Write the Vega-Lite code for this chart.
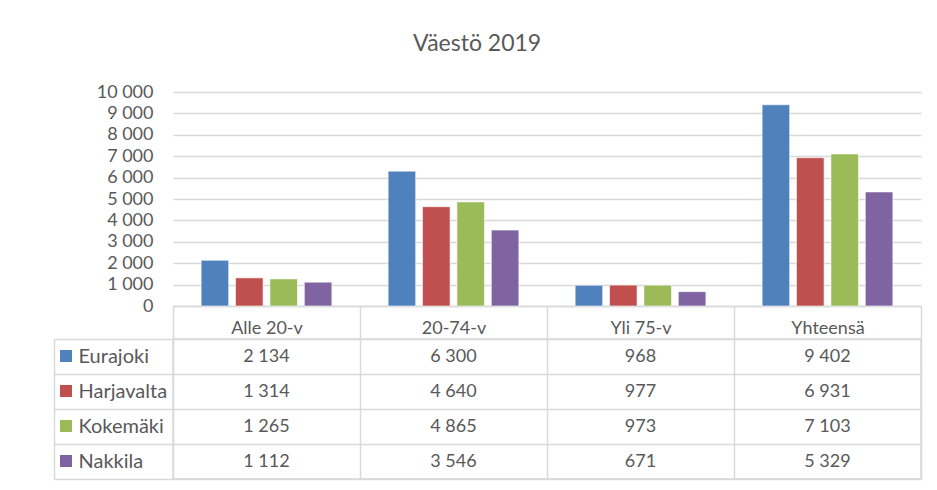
{
  "$schema": "https://vega.github.io/schema/vega-lite/v6.json",
  "background": "white",
  "padding": {"left": 52, "top": 33, "right": 17, "bottom": 12},
  "title": {"text": "Väestö 2019", "fontSize": 23, "font": "Lato", "fontWeight": "normal", "color": "#595959", "anchor": "middle", "dx": -10, "offset": 27},
  "config": {
    "locale": {"number": {"decimal": ",", "thousands": " ", "grouping": [3], "currency": ["", " €"]}},
    "font": "Lato",
    "view": {"stroke": null}
  },
  "datasets": {
    "pop": [
      {"group": "Alle 20-v", "kunta": "Eurajoki", "value": 2134},
      {"group": "Alle 20-v", "kunta": "Harjavalta", "value": 1314},
      {"group": "Alle 20-v", "kunta": "Kokemäki", "value": 1265},
      {"group": "Alle 20-v", "kunta": "Nakkila", "value": 1112},
      {"group": "20-74-v", "kunta": "Eurajoki", "value": 6300},
      {"group": "20-74-v", "kunta": "Harjavalta", "value": 4640},
      {"group": "20-74-v", "kunta": "Kokemäki", "value": 4865},
      {"group": "20-74-v", "kunta": "Nakkila", "value": 3546},
      {"group": "Yli 75-v", "kunta": "Eurajoki", "value": 968},
      {"group": "Yli 75-v", "kunta": "Harjavalta", "value": 977},
      {"group": "Yli 75-v", "kunta": "Kokemäki", "value": 973},
      {"group": "Yli 75-v", "kunta": "Nakkila", "value": 671},
      {"group": "Yhteensä", "kunta": "Eurajoki", "value": 9402},
      {"group": "Yhteensä", "kunta": "Harjavalta", "value": 6931},
      {"group": "Yhteensä", "kunta": "Kokemäki", "value": 7103},
      {"group": "Yhteensä", "kunta": "Nakkila", "value": 5329}
    ]
  },
  "bounds": "flush",
  "spacing": 33,
  "vconcat": [
    {
      "width": 748,
      "height": 214,
      "data": {"name": "pop"},
      "mark": {"type": "bar", "stroke": "white", "strokeWidth": 0.8, "strokeOpacity": 0.7},
      "encoding": {
        "x": {"field": "group", "type": "nominal", "sort": ["Alle 20-v", "20-74-v", "Yli 75-v", "Yhteensä"],
          "scale": {"paddingInner": 0, "paddingOuter": 0},
          "axis": {"title": null, "labelAngle": 0, "labelFontSize": 18, "labelColor": "#595959", "labelPadding": -20,
            "ticks": true, "tickBand": "extent", "tickSize": 33, "tickColor": "#D9D9D9", "tickWidth": 1.5,
            "domainColor": "#D9D9D9", "domainWidth": 1.5, "grid": false}},
        "xOffset": {"field": "kunta", "type": "nominal", "sort": ["Eurajoki", "Harjavalta", "Kokemäki", "Nakkila"],
          "scale": {"paddingInner": 0.2, "paddingOuter": 0.818}},
        "y": {"field": "value", "type": "quantitative", "scale": {"domain": [0, 10000], "nice": false},
          "axis": {"title": null, "values": [0, 1000, 2000, 3000, 4000, 5000, 6000, 7000, 8000, 9000, 10000], "format": ",d",
            "labelFontSize": 18, "labelColor": "#595959", "labelPadding": 20, "ticks": false, "domain": false,
            "gridColor": "#D9D9D9", "gridWidth": 1.5}},
        "color": {"field": "kunta", "type": "nominal", "sort": ["Eurajoki", "Harjavalta", "Kokemäki", "Nakkila"],
          "scale": {"range": ["#4F81BD", "#C0504D", "#9BBB59", "#8064A2"]},
          "legend": {"orient": "none", "legendX": -113, "legendY": 258, "title": null, "symbolType": "square",
            "symbolSize": 144, "symbolStrokeWidth": 0, "labelFontSize": 1, "labelOpacity": 0, "rowPadding": 23, "padding": 0}}
      }
    },
    {
      "width": 748,
      "height": 140,
      "view": {"stroke": "#D9D9D9", "strokeWidth": 1.5},
      "data": {"name": "pop"},
      "mark": {"type": "text", "fontSize": 18, "color": "#595959"},
      "encoding": {
        "x": {"field": "group", "type": "nominal", "sort": ["Alle 20-v", "20-74-v", "Yli 75-v", "Yhteensä"],
          "scale": {"paddingInner": 0, "paddingOuter": 0},
          "axis": {"title": null, "orient": "top", "labels": false, "ticks": false, "domain": false, "grid": true,
            "tickBand": "extent", "gridColor": "#D9D9D9", "gridWidth": 1.5}},
        "y": {"field": "kunta", "type": "nominal", "sort": ["Eurajoki", "Harjavalta", "Kokemäki", "Nakkila"],
          "scale": {"paddingInner": 0, "paddingOuter": 0},
          "axis": {"title": null, "offset": 119, "tickSize": -119, "tickBand": "extent", "tickColor": "#D9D9D9", "tickWidth": 1.5,
            "grid": true, "gridColor": "#D9D9D9", "gridWidth": 1.5, "domainColor": "#D9D9D9", "domainWidth": 1.5,
            "labelAlign": "left", "labelFontSize": 20, "labelColor": "#595959", "labelPadding": 95}},
        "text": {"field": "value", "type": "quantitative", "format": ",d"}
      }
    }
  ]
}
